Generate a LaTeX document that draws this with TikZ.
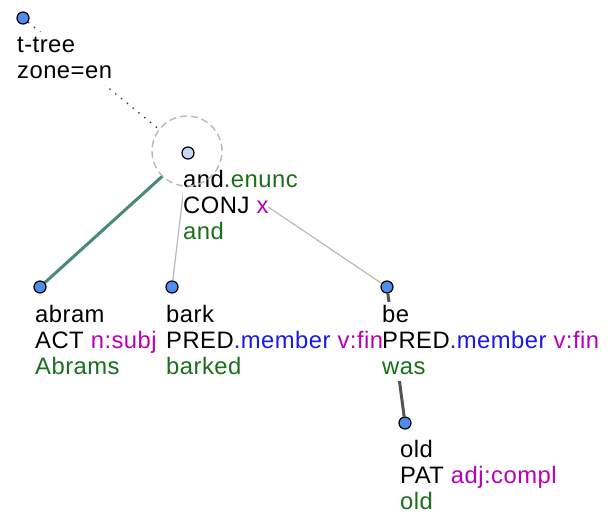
\documentclass[tikz,border=0pt]{standalone}
\usepackage{fontspec}
\setmainfont[LetterSpace=2]{Liberation Sans}
\usetikzlibrary{backgrounds}
\definecolor{tgreen}{RGB}{26,112,26}
\definecolor{tmag}{RGB}{185,0,185}
\definecolor{tblue}{RGB}{25,25,235}
\definecolor{dotblue}{RGB}{80,140,240}
\definecolor{dotlight}{RGB}{200,215,245}
\definecolor{teal2}{RGB}{72,138,118}
\definecolor{edgegray}{RGB}{185,185,185}
\definecolor{circgray}{RGB}{185,185,185}
\definecolor{darkedge}{RGB}{85,85,85}
\tikzset{
  tdot/.style={circle, draw=black, line width=1.2pt, fill=dotblue, minimum size=12pt, inner sep=0pt},
  tdotl/.style={tdot, fill=dotlight},
  txt/.style={anchor=base west, inner xsep=0pt, inner ysep=0.6pt, text height=19pt, text depth=6pt, fill=white, font=\fontsize{23.8}{26}\selectfont},
  thinedge/.style={draw=edgegray, line width=1.2pt},
  tealedge/.style={draw=teal2, line width=3pt},
  darkedgest/.style={draw=darkedge, line width=3pt},
}
\begin{document}
\begin{tikzpicture}[x=1pt,y=-1pt]
\useasboundingbox (0,0) rectangle (613,517);
% dots
\node[tdot] (r) at (23,18) {};
\node[tdotl] (n0) at (188,153) {};
\node[tdot] (n1) at (40,287) {};
\node[tdot] (n2) at (172,287) {};
\node[tdot] (n3) at (387,287) {};
\node[tdot] (n4) at (405,423) {};
% texts
\node[txt] (r1) at (17,52) {t-tree};
\node[txt] (r2) at (17,78) {zone=en};
\node[txt] (a1) at (183,187) {and{\color{tgreen}.enunc}};
\node[txt] (a2) at (183,213) {CONJ {\color{tmag}x}};
\node[txt] (a3) at (183,239) {\color{tgreen}and};
\node[txt] (b1) at (35,322) {abram};
\node[txt] (b2) at (35,348) {ACT {\color{tmag}n:subj}};
\node[txt] (b3) at (35,374) {\color{tgreen}Abrams};
\node[txt] (c1) at (166,322) {bark};
\node[txt] (c2) at (166,348) {PRED{\color{tblue}.member} {\color{tmag}v:fin}};
\node[txt] (c3) at (166,374) {\color{tgreen}barked};
\node[txt] (d1) at (382,322) {be};
\node[txt] (d2) at (382,348) {PRED{\color{tblue}.member} {\color{tmag}v:fin}};
\node[txt] (d3) at (382,374) {\color{tgreen}was};
\node[txt] (e1) at (400,457) {old};
\node[txt] (e2) at (400,483) {PAT {\color{tmag}adj:compl}};
\node[txt] (e3) at (400,509) {\color{tgreen}old};
% dashed circle outline
\node[circle, draw=circgray, line width=1.4pt, dash pattern=on 7pt off 4pt, minimum size=70pt, inner sep=0pt] (hl) at (187,151) {};
\begin{pgfonlayer}{background}
\draw[draw=black!75, line width=1.3pt, dash pattern=on 1.5pt off 6pt] (r) -- (n0);
\draw[tealedge] (n0) -- (n1);
\draw[thinedge] (n0) -- (n2);
\draw[thinedge] (n0) -- (n3);
\draw[darkedgest] (n3) -- (n4);
\fill[white] (hl.center) circle (35pt);
\end{pgfonlayer}
\end{tikzpicture}
\end{document}
